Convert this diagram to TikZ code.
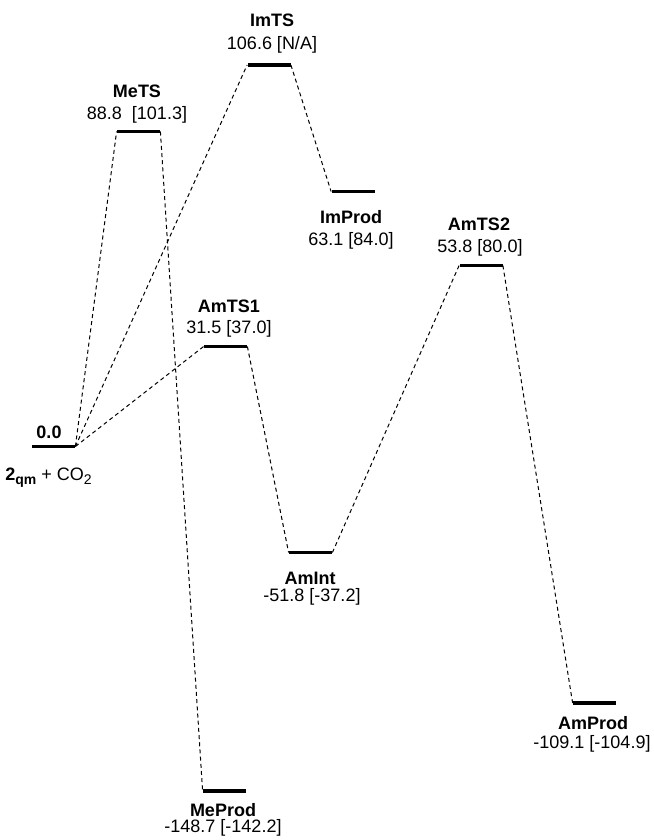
\documentclass[tikz,border=0pt]{standalone}
\usepackage{fontspec}
\setmainfont{Liberation Sans}
\newcommand{\mysub}[1]{\raisebox{-0.25em}{\fontsize{7}{8}\selectfont #1}}
\begin{document}
\begin{tikzpicture}[x=0.5pt,y=-0.5pt,
  lvl/.style={fill=black,inner sep=0pt,minimum width=21.5pt,minimum height=1.6pt},
  conn/.style={line width=0.5pt,dash pattern=on 2pt off 1.6pt},
  nm/.style={font=\fontsize{9}{10}\selectfont\bfseries,anchor=base,inner sep=0pt},
  val/.style={font=\fontsize{9}{10}\selectfont,anchor=base,inner sep=0pt}]
\useasboundingbox (0,0) rectangle (653,840);
% levels
\node[lvl] (R) at (53.5,446.5) {};
\node[lvl] (MeTS) at (138.5,131.5) {};
\node[lvl] (ImTS) at (269,65) {};
\node[lvl] (ImProd) at (353,191.5) {};
\node[lvl] (AmTS2) at (481,265.5) {};
\node[lvl] (AmTS1) at (225.5,346.5) {};
\node[lvl] (AmInt) at (310.5,552.5) {};
\node[lvl] (MeProd) at (224.5,791) {};
\node[lvl] (AmProd) at (594.5,703) {};
% connectors
\draw[conn] (R.east) -- (MeTS.west);
\draw[conn] (R.east) -- (ImTS.west);
\draw[conn] (R.east) -- (AmTS1.west);
\draw[conn] (MeTS.east) -- (MeProd.west);
\draw[conn] (ImTS.east) -- (ImProd.west);
\draw[conn] (AmTS1.east) -- (AmInt.west);
\draw[conn] (AmInt.east) -- (AmTS2.west);
\draw[conn] (AmTS2.east) -- (AmProd.west);
% labels
\node[nm] (Rn) at (49,438.5) {0.0};
\node[val] (Rv) at (48.5,480) {{\bfseries 2\mysub{qm}} + CO\mysub{2}};
\node[nm] (MeTSn) at (137,97.5) {MeTS};
\node[val] (MeTSv) at (137,119.5) {88.8\ \ [101.3]};
\node[nm] (ImTSn) at (272,26.5) {ImTS};
\node[val] (ImTSv) at (272,49.5) {106.6 [N/A]};
\node[nm] (ImProdn) at (351,223.5) {ImProd};
\node[val] (ImProdv) at (351,245.5) {63.1 [84.0]};
\node[nm] (AmTS2n) at (479,230.5) {AmTS2};
\node[val] (AmTS2v) at (480,252.5) {53.8 [80.0]};
\node[nm] (AmTS1n) at (229,312.5) {AmTS1};
\node[val] (AmTS1v) at (229,333.5) {31.5 [37.0]};
\node[nm] (AmIntn) at (310,584.5) {AmInt};
\node[val] (AmIntv) at (312,601) {-51.8 [-37.2]};
\node[nm] (MeProdn) at (223,816.5) {MeProd};
\node[val] (MeProdv) at (223,832) {-148.7 [-142.2]};
\node[nm] (AmProdn) at (593,729.5) {AmProd};
\node[val] (AmProdv) at (592,748.5) {-109.1 [-104.9]};
\end{tikzpicture}
\end{document}
